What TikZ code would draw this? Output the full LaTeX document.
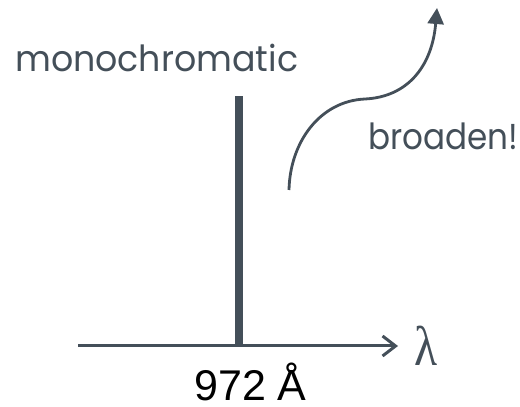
\documentclass[tikz,border=0pt]{standalone}
\usepackage{fontspec}
\usepackage{graphicx}
\newfontfamily\handfont{Poppins}
\newfontfamily\labelfont{Liberation Sans}
\newfontfamily\greekfont{Liberation Serif}
\usetikzlibrary{arrows.meta}
\definecolor{ink}{HTML}{444F59}
\begin{document}
\begin{tikzpicture}[x=1pt,y=1pt,
  hand/.style={font=\handfont\fontsize{36}{40}\selectfont, text=ink, inner sep=0pt},
  axisline/.style={draw=ink, line width=3pt, -{Straight Barb[length=13pt,width=20pt,line width=3pt]}},
  barline/.style={draw=ink, line width=8pt},
  curvearrow/.style={draw=ink, line width=2.8pt, -{Triangle[length=16pt,width=16pt]}}]
\useasboundingbox (0,0) rectangle (520,407);
% axis
\coordinate (a0) at (78,61);
\coordinate (a1) at (398,61);
\draw[axisline] (a0) -- (a1);
% spectral line
\coordinate (b0) at (239,61);
\coordinate (b1) at (239,311);
\draw[barline] (b0) -- (b1);
% labels
\node[hand, anchor=base west] (mono) at (15,335) {\resizebox{283pt}{\height}{monochromatic}};
\node[hand, anchor=base west] (broad) at (368,257) {\resizebox{150pt}{\height}{broaden!}};
\node[anchor=center, inner sep=0pt, text=ink, font=\greekfont\fontsize{56}{60}\selectfont] (lam) at (426,61) {\scalebox{0.85}[1]{λ}};
\node[anchor=base west, inner sep=0pt, text depth=0pt, font=\labelfont\fontsize{43}{44}\selectfont, text=black] (wl) at (194,6) {972 Å};
% broaden arrow
\coordinate (c0) at (289,217);
\coordinate (c1) at (365,308);
\coordinate (c2) at (437,399);
\draw[curvearrow] (c0) .. controls (290,265) and (320,306) .. (c1)
  .. controls (407,310) and (432,340) .. (c2);
\end{tikzpicture}
\end{document}
